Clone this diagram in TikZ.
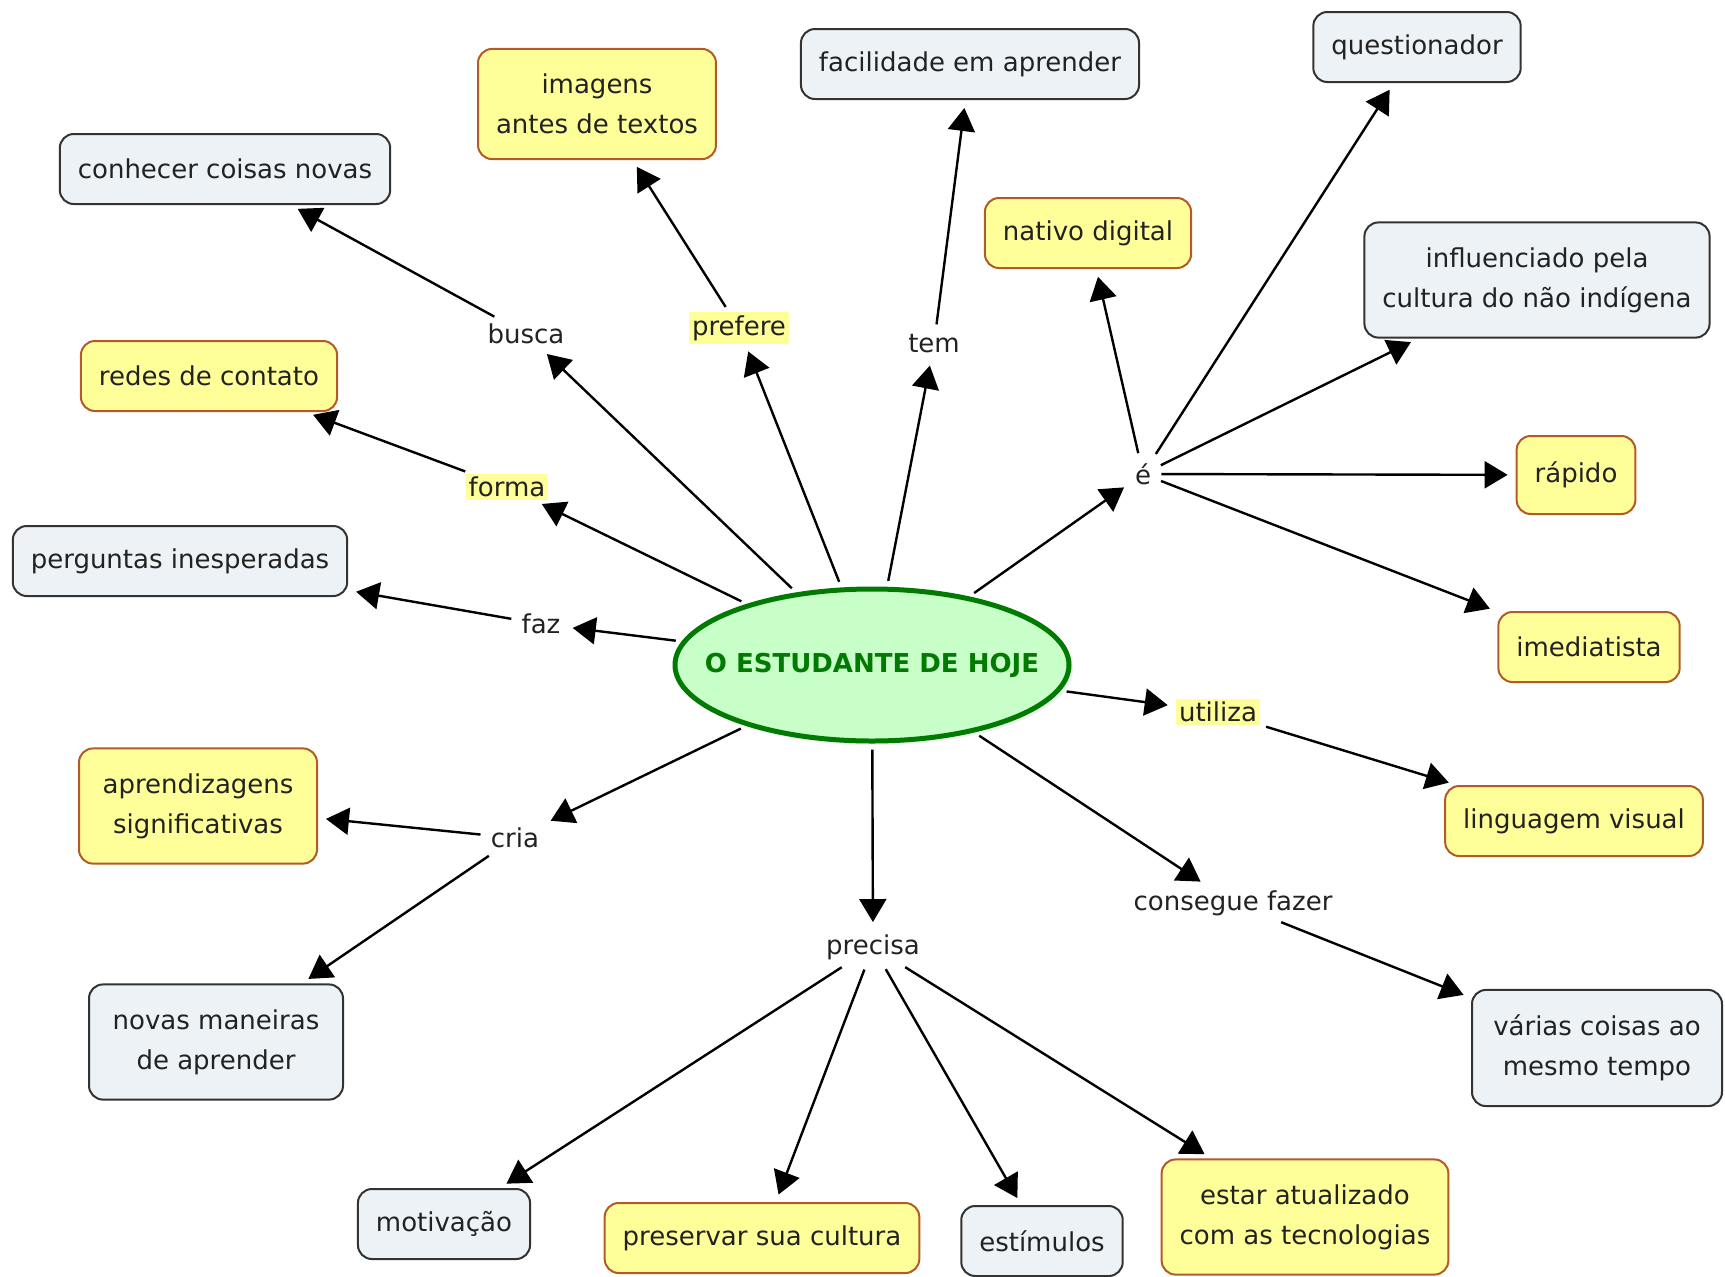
\documentclass[tikz,border=0pt]{standalone}
\usepackage{fontspec}
\setmainfont{DejaVu Sans}
\usetikzlibrary{shapes,arrows.meta,shadows}

\definecolor{cyellow}{HTML}{FFFF99}
\definecolor{cbrown}{HTML}{B45A28}
\definecolor{cgrey}{HTML}{ECF2F5}
\definecolor{cgreyline}{HTML}{333333}
\definecolor{cgreen}{HTML}{C8FFC8}
\definecolor{cgreenline}{HTML}{007A00}
\definecolor{ctext}{HTML}{222222}

\tikzset{
  concept/.style={rounded corners=7pt, line width=1pt, minimum height=35pt,
    inner xsep=9pt, inner ysep=9pt, align=center, text=ctext},
  twoline/.style={inner ysep=12.5pt},
  yellowbox/.style={concept, draw=cbrown, fill=cyellow},
  greybox/.style={concept, draw=cgreyline, fill=cgrey},
  linkw/.style={inner sep=2pt, text=ctext},
  linky/.style={inner sep=1.5pt, fill=cyellow, text=ctext},
  arr/.style={-{Triangle[length=11.5pt,width=13.5pt]}, line width=1.2pt,
    shorten >=4pt, shorten <=3pt}
}

\begin{document}
\begin{tikzpicture}[x=0.5pt,y=-0.5pt,font=\fontsize{13}{20}\selectfont]
    \useasboundingbox (0,0) rectangle (1725,1276);
    \clip (0,0) rectangle (1725,1276);

    % centre
    \node[ellipse, draw=cgreenline, line width=2.5pt, fill=cgreen,
      minimum width=197pt, minimum height=76pt, inner sep=0pt,
      drop shadow={shadow xshift=2pt, shadow yshift=-2pt, fill=black!12}]
      (est) at (872,665) {\makebox[0pt]{\color{cgreenline}\bfseries O ESTUDANTE DE HOJE}};

    % linking words
    \node[linkw] (busca) at (526,334) {busca};
    \node[linky] (prefere) at (739,328) {prefere};
    \node[linkw] (tem) at (934,344) {tem};
    \node[linkw] (eh) at (1143,474) {é};
    \node[linky] (forma) at (507,487) {forma};
    \node[linkw] (faz) at (541,624) {faz};
    \node[linky] (utiliza) at (1218,712) {utiliza};
    \node[linkw] (cria) at (515,838) {cria};
    \node[linkw] (consegue) at (1233,903) {consegue fazer};
    \node[linkw] (precisa) at (873,947) {precisa};

    % concepts
    \node[greybox] (conhecer) at (225,169) {conhecer coisas novas};
    \node[yellowbox, twoline] (imagens) at (597,104) {imagens\\antes de textos};
    \node[greybox] (facilidade) at (970,64) {facilidade em aprender};
    \node[greybox] (questionador) at (1417,47) {questionador};
    \node[yellowbox] (nativo) at (1088,233) {nativo digital};
    \node[greybox, twoline] (influenciado) at (1537,280) {influenciado pela\\cultura do não indígena};
    \node[yellowbox] (redes) at (209,376) {redes de contato};
    \node[yellowbox, minimum height=39pt] (rapido) at (1576,475) {rápido};
    \node[greybox] (perguntas) at (180,561) {perguntas inesperadas};
    \node[yellowbox] (imediatista) at (1589,647) {imediatista};
    \node[yellowbox] (linguagem) at (1574,821) {linguagem visual};
    \node[yellowbox, twoline, minimum width=119pt] (aprendizagens) at (198,806) {aprendizagens\\significativas};
    \node[greybox, twoline, minimum width=127pt] (novas) at (216,1042) {novas maneiras\\de aprender};
    \node[greybox, twoline, minimum width=125pt] (varias) at (1597,1048) {várias coisas ao\\mesmo tempo};
    \node[greybox] (motivacao) at (444,1224) {motivação};
    \node[yellowbox] (preservar) at (762,1238) {preservar sua cultura};
    \node[greybox] (estimulos) at (1042,1241) {estímulos};
    \node[yellowbox, twoline] (estar) at (1305,1217) {estar atualizado\\com as tecnologias};

    % connectors
    \foreach \a/\b in {est/busca, busca/conhecer, est/prefere, prefere/imagens,
        est/tem, tem/facilidade, est/eh, eh/nativo, eh/questionador,
        eh/influenciado, eh/rapido, eh/imediatista, est/forma, forma/redes,
        est/faz, faz/perguntas, est/utiliza, utiliza/linguagem,
        est/cria, cria/aprendizagens, cria/novas, est/consegue, consegue/varias,
        est/precisa, precisa/motivacao, precisa/preservar,
        precisa/estimulos, precisa/estar}
      \draw[arr] (\a) -- (\b);
\end{tikzpicture}
\end{document}
